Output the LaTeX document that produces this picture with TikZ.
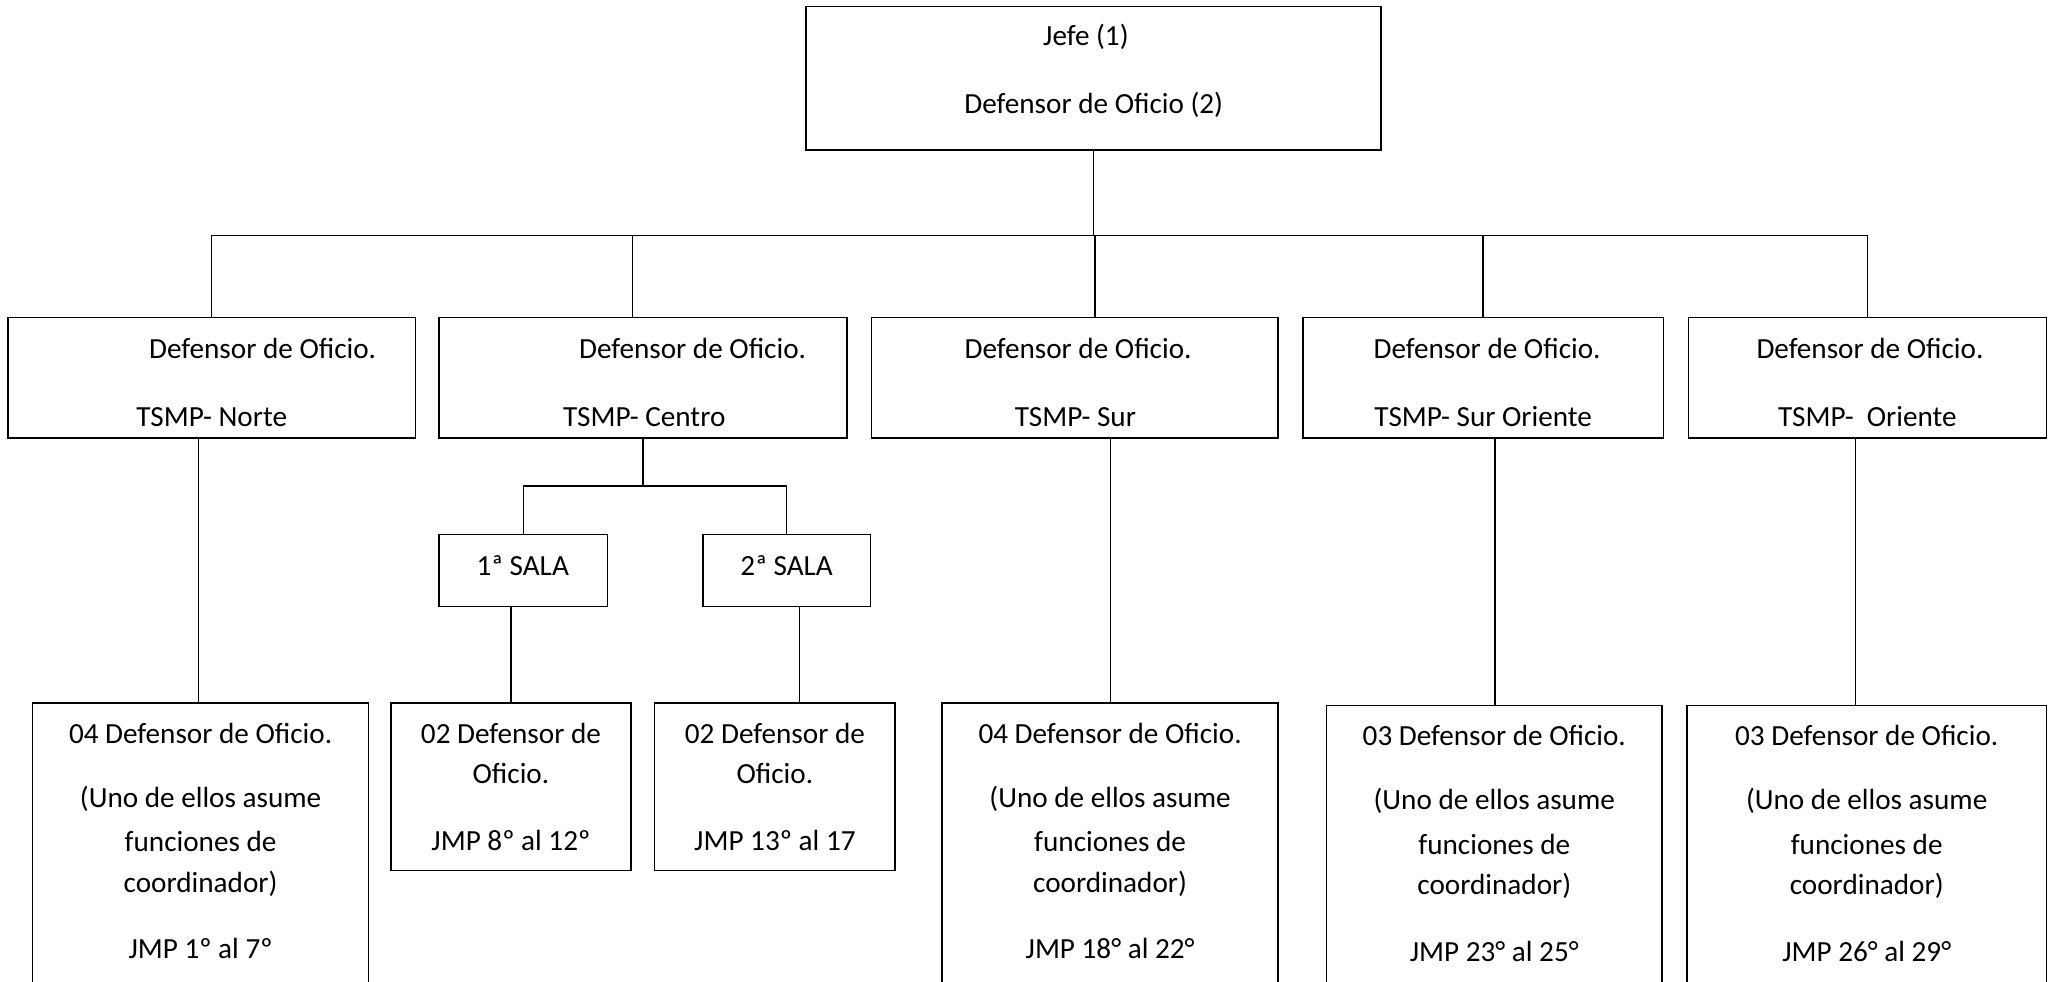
\documentclass[tikz,border=0pt]{standalone}
\usepackage{fontspec}
\setmainfont{Carlito}
\usetikzlibrary{fit}
\begin{document}
\begin{tikzpicture}[x=0.6534pt,y=-0.6534pt,
  box/.style={draw, line width=0.8pt, inner sep=0pt, rectangle},
  txt/.style={inner sep=0pt, font=\fontsize{14.6}{17}\selectfont},
  conn/.style={line width=0.7pt}]
\useasboundingbox (0,0) rectangle (1568,751);
\begin{scope}
\clip (0,0) rectangle (1568,751);
% top
\node[box, fit={(617,5) (1057,115)}] (jefe) {};
\node[txt] (t1) at (831,28) {Jefe (1)};
\node[txt] (t2) at (837,80) {Defensor de Oficio (2)};
% level 2
\node[box, fit={(6,243) (318,335)}] (norte) {};
\node[box, fit={(336,243) (648,335)}] (centro) {};
\node[box, fit={(667,243) (978,335)}] (sur) {};
\node[box, fit={(997,243) (1273,335)}] (suror) {};
\node[box, fit={(1292,243) (1566,335)}] (oriente) {};
\node[txt] (n1) at (201,267) {Defensor de Oficio.};
\node[txt] (n2) at (162,319) {TSMP- Norte};
\node[txt] (c1) at (530,267) {Defensor de Oficio.};
\node[txt] (c2) at (493,319) {TSMP- Centro};
\node[txt] (s1) at (825,267) {Defensor de Oficio.};
\node[txt] (s2) at (823,319) {TSMP- Sur};
\node[txt] (so1) at (1138,267) {Defensor de Oficio.};
\node[txt] (so2) at (1135,319) {TSMP- Sur Oriente};
\node[txt] (o1) at (1431,267) {Defensor de Oficio.};
\node[txt] (o2) at (1429,319) {TSMP-\ \ Oriente};
% salas
\node[box, fit={(336,409) (465,464)}] (sala1) {};
\node[box, fit={(538,409) (666,464)}] (sala2) {};
\node[txt] (sa1) at (400,433) {1ª SALA};
\node[txt] (sa2) at (602,433) {2ª SALA};
% bottom boxes
\node[box, fit={(25,538) (282,770)}] (bn) {};
\node[box, fit={(299,538) (483,666)}] (bs1) {};
\node[box, fit={(501,538) (685,666)}] (bs2) {};
\node[box, fit={(721,538) (978,770)}] (bsur) {};
\node[box, fit={(1015,540) (1272,770)}] (bso) {};
\node[box, fit={(1291,540) (1566,770)}] (bo) {};
% bottom texts
\foreach \cx/\nm/\yo/\num/\jmp in {153.5/bn/0/04/{JMP 1º al 7º}, 849.5/bsur/0/04/{JMP 18° al 22°}, 1143.5/bso/2/03/{JMP 23° al 25°}, 1428.5/bo/2/03/{JMP 26° al 29°}}{
  \node[txt] (\nm-a) at (\cx,561+\yo) {\num{} Defensor de Oficio.};
  \node[txt] (\nm-b) at (\cx,611+\yo) {(Uno de ellos asume};
  \node[txt] (\nm-c) at (\cx,644+\yo) {funciones de};
  \node[txt] (\nm-d) at (\cx,676+\yo) {coordinador)};
  \node[txt] (\nm-e) at (\cx,726+\yo) {\jmp};
}
\node[txt] (bs1-a) at (391,561) {02 Defensor de};
\node[txt] (bs1-b) at (391,592) {Oficio.};
\node[txt] (bs1-c) at (391,643) {JMP 8º al 12º};
\node[txt] (bs2-a) at (593,561) {02 Defensor de};
\node[txt] (bs2-b) at (593,592) {Oficio.};
\node[txt] (bs2-c) at (593,643) {JMP 13º al 17};
% connectors
\coordinate (bus) at (837,180);
\draw[conn] (jefe.south) -- (jefe.south |- bus);
\draw[conn] (162,180 |- bus) -- (1429,180 |- bus);
\draw[conn] (162,180) -- (162,180 |- norte.north);
\draw[conn] (484,180) -- (484,180 |- centro.north);
\draw[conn] (838,180) -- (838,180 |- sur.north);
\draw[conn] (1135,180) -- (1135,180 |- suror.north);
\draw[conn] (1429,180) -- (1429,180 |- oriente.north);
\draw[conn] (152,335 |- norte.south) -- (152,335 |- bn.north);
\coordinate (cbar) at (492,372);
\draw[conn] (centro.south) -- (centro.south |- cbar);
\draw[conn] (sala1.north) -- (sala1.north |- cbar) -- (sala2.north |- cbar) -- (sala2.north);
\draw[conn] (391,464 |- sala1.south) -- (391,464 |- bs1.north);
\draw[conn] (612,464 |- sala2.south) -- (612,464 |- bs2.north);
\draw[conn] (850,335 |- sur.south) -- (850,335 |- bsur.north);
\draw[conn] (1144,335 |- suror.south) -- (1144,335 |- bso.north);
\draw[conn] (1420,335 |- oriente.south) -- (1420,335 |- bo.north);
\end{scope}
\end{tikzpicture}
\end{document}
